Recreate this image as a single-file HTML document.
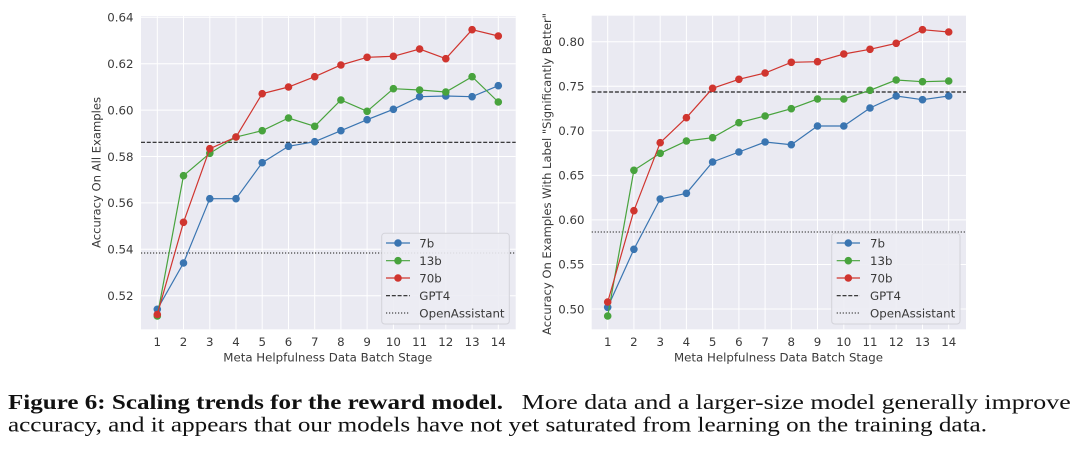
<!DOCTYPE html>
<html><head><meta charset="utf-8"><style>
html,body{margin:0;padding:0;background:#fff;}
svg{display:block;}
.t{font-family:"DejaVu Sans","Liberation Sans",sans-serif;font-size:11.8px;fill:#3a3a3a;}
.c{font-family:"Liberation Serif",serif;font-size:21.5px;fill:#111;}
</style></head><body>
<svg width="1080" height="450" viewBox="0 0 1080 450" xmlns="http://www.w3.org/2000/svg">
<defs>
<marker id="mb" markerUnits="userSpaceOnUse" markerWidth="10" markerHeight="10" refX="5" refY="5"><circle cx="5" cy="5" r="3.8" fill="#3a75b1"/></marker>
<marker id="mg" markerUnits="userSpaceOnUse" markerWidth="10" markerHeight="10" refX="5" refY="5"><circle cx="5" cy="5" r="3.8" fill="#48a33d"/></marker>
<marker id="mr" markerUnits="userSpaceOnUse" markerWidth="10" markerHeight="10" refX="5" refY="5"><circle cx="5" cy="5" r="3.8" fill="#d0352f"/></marker>
</defs>

<!-- LEFT PLOT -->
<rect x="141" y="16" width="374.7" height="313.3" fill="#eaeaf2"/>
<g stroke="#fff" stroke-width="1">
<line x1="157.3" y1="16" x2="157.3" y2="329.3"/><line x1="183.5" y1="16" x2="183.5" y2="329.3"/><line x1="209.8" y1="16" x2="209.8" y2="329.3"/><line x1="236" y1="16" x2="236" y2="329.3"/><line x1="262.2" y1="16" x2="262.2" y2="329.3"/><line x1="288.5" y1="16" x2="288.5" y2="329.3"/><line x1="314.7" y1="16" x2="314.7" y2="329.3"/><line x1="340.9" y1="16" x2="340.9" y2="329.3"/><line x1="367.1" y1="16" x2="367.1" y2="329.3"/><line x1="393.4" y1="16" x2="393.4" y2="329.3"/><line x1="419.6" y1="16" x2="419.6" y2="329.3"/><line x1="445.8" y1="16" x2="445.8" y2="329.3"/><line x1="472.1" y1="16" x2="472.1" y2="329.3"/><line x1="498.3" y1="16" x2="498.3" y2="329.3"/>
<line x1="141" y1="17.3" x2="515.7" y2="17.3"/><line x1="141" y1="63.7" x2="515.7" y2="63.7"/><line x1="141" y1="110.1" x2="515.7" y2="110.1"/><line x1="141" y1="156.5" x2="515.7" y2="156.5"/><line x1="141" y1="202.9" x2="515.7" y2="202.9"/><line x1="141" y1="249.3" x2="515.7" y2="249.3"/><line x1="141" y1="295.7" x2="515.7" y2="295.7"/>
</g>
<line x1="141" y1="142.3" x2="515.7" y2="142.3" stroke="#222" stroke-width="1.2" stroke-dasharray="4,1.8"/>
<line x1="141" y1="253" x2="515.7" y2="253" stroke="#444" stroke-width="1.2" stroke-dasharray="1.2,1.8"/>
<g fill="none" stroke-width="1.2">
<polyline stroke="#3a75b1" marker-start="url(#mb)" marker-mid="url(#mb)" marker-end="url(#mb)" points="157.3,309.3 183.5,263 209.8,198.7 236,198.7 262.2,162.7 288.5,146.3 314.7,141.7 340.9,130.7 367.1,119.7 393.4,109.3 419.6,96.7 445.8,96 472.1,96.7 498.3,85.7"/>
<polyline stroke="#48a33d" marker-start="url(#mg)" marker-mid="url(#mg)" marker-end="url(#mg)" points="157.3,316 183.5,175.7 209.8,153.3 236,137 262.2,130.7 288.5,118 314.7,126.3 340.9,100 367.1,111.3 393.4,88.7 419.6,90 445.8,92 472.1,76.7 498.3,102"/>
<polyline stroke="#d0352f" marker-start="url(#mr)" marker-mid="url(#mr)" marker-end="url(#mr)" points="157.3,314.5 183.5,222.3 209.8,148.7 236,137 262.2,93.7 288.5,87 314.7,76.7 340.9,65 367.1,57.3 393.4,56.3 419.6,49 445.8,58.7 472.1,29.7 498.3,36"/>
</g>
<g class="t" text-anchor="end">
<text x="133.5" y="21.6">0.64</text><text x="133.5" y="68">0.62</text><text x="133.5" y="114.4">0.60</text><text x="133.5" y="160.8">0.58</text><text x="133.5" y="207.2">0.56</text><text x="133.5" y="253.6">0.54</text><text x="133.5" y="300">0.52</text>
</g>
<g class="t" text-anchor="middle">
<text x="157.3" y="346">1</text><text x="183.5" y="346">2</text><text x="209.8" y="346">3</text><text x="236" y="346">4</text><text x="262.2" y="346">5</text><text x="288.5" y="346">6</text><text x="314.7" y="346">7</text><text x="340.9" y="346">8</text><text x="367.1" y="346">9</text><text x="393.4" y="346">10</text><text x="419.6" y="346">11</text><text x="445.8" y="346">12</text><text x="472.1" y="346">13</text><text x="498.3" y="346">14</text>
<text x="327.8" y="361.5" textLength="209" lengthAdjust="spacingAndGlyphs">Meta Helpfulness Data Batch Stage</text>
<text transform="translate(100.5,172.5) rotate(-90)" x="0" y="0" textLength="151" lengthAdjust="spacingAndGlyphs">Accuracy On All Examples</text>
</g>
<!-- left legend -->
<rect x="381.7" y="233.3" width="127.6" height="90.7" rx="3" fill="#ececf3" fill-opacity="0.9" stroke="#d3d3da" stroke-width="1"/>
<line x1="386" y1="243" x2="410" y2="243" stroke="#3a75b1" stroke-width="1.2"/><circle cx="398" cy="243" r="3.8" fill="#3a75b1"/>
<line x1="386" y1="260.7" x2="410" y2="260.7" stroke="#48a33d" stroke-width="1.2"/><circle cx="398" cy="260.7" r="3.8" fill="#48a33d"/>
<line x1="386" y1="278" x2="410" y2="278" stroke="#d0352f" stroke-width="1.2"/><circle cx="398" cy="278" r="3.8" fill="#d0352f"/>
<line x1="386" y1="295.7" x2="410" y2="295.7" stroke="#222" stroke-width="1.2" stroke-dasharray="4,1.8"/>
<line x1="386" y1="313" x2="410" y2="313" stroke="#444" stroke-width="1.2" stroke-dasharray="1.2,1.8"/>
<g class="t"><text x="419.3" y="247.3">7b</text><text x="419.3" y="265">13b</text><text x="419.3" y="282.3">70b</text><text x="419.3" y="300">GPT4</text><text x="419.3" y="317.3">OpenAssistant</text></g>

<!-- RIGHT PLOT -->
<rect x="591.7" y="15.7" width="374.3" height="313.6" fill="#eaeaf2"/>
<g stroke="#fff" stroke-width="1">
<line x1="607.7" y1="15.7" x2="607.7" y2="329.3"/><line x1="633.9" y1="15.7" x2="633.9" y2="329.3"/><line x1="660.2" y1="15.7" x2="660.2" y2="329.3"/><line x1="686.4" y1="15.7" x2="686.4" y2="329.3"/><line x1="712.6" y1="15.7" x2="712.6" y2="329.3"/><line x1="738.9" y1="15.7" x2="738.9" y2="329.3"/><line x1="765.1" y1="15.7" x2="765.1" y2="329.3"/><line x1="791.3" y1="15.7" x2="791.3" y2="329.3"/><line x1="817.5" y1="15.7" x2="817.5" y2="329.3"/><line x1="843.8" y1="15.7" x2="843.8" y2="329.3"/><line x1="870" y1="15.7" x2="870" y2="329.3"/><line x1="896.2" y1="15.7" x2="896.2" y2="329.3"/><line x1="922.5" y1="15.7" x2="922.5" y2="329.3"/><line x1="948.7" y1="15.7" x2="948.7" y2="329.3"/>
<line x1="591.7" y1="41.7" x2="966" y2="41.7"/><line x1="591.7" y1="86.25" x2="966" y2="86.25"/><line x1="591.7" y1="130.8" x2="966" y2="130.8"/><line x1="591.7" y1="175.35" x2="966" y2="175.35"/><line x1="591.7" y1="219.9" x2="966" y2="219.9"/><line x1="591.7" y1="264.45" x2="966" y2="264.45"/><line x1="591.7" y1="309" x2="966" y2="309"/>
</g>
<line x1="591.7" y1="92" x2="966" y2="92" stroke="#222" stroke-width="1.2" stroke-dasharray="4,1.8"/>
<line x1="591.7" y1="232" x2="966" y2="232" stroke="#444" stroke-width="1.2" stroke-dasharray="1.2,1.8"/>
<g fill="none" stroke-width="1.2">
<polyline stroke="#3a75b1" marker-start="url(#mb)" marker-mid="url(#mb)" marker-end="url(#mb)" points="607.7,307.3 633.9,249.3 660.2,199 686.4,193.3 712.6,162 738.9,152 765.1,142 791.3,144.7 817.5,126 843.8,126 870,108 896.2,96 922.5,99.7 948.7,96"/>
<polyline stroke="#48a33d" marker-start="url(#mg)" marker-mid="url(#mg)" marker-end="url(#mg)" points="607.7,316 633.9,170.3 660.2,153.3 686.4,141 712.6,137.7 738.9,122.7 765.1,116 791.3,108.7 817.5,99 843.8,99 870,90.3 896.2,80 922.5,81.7 948.7,81"/>
<polyline stroke="#d0352f" marker-start="url(#mr)" marker-mid="url(#mr)" marker-end="url(#mr)" points="607.7,302 633.9,210.7 660.2,142.7 686.4,117.7 712.6,88.3 738.9,79.3 765.1,73 791.3,62.3 817.5,61.7 843.8,54 870,49.3 896.2,43.3 922.5,29.7 948.7,32"/>
</g>
<g class="t" text-anchor="end">
<text x="584.5" y="46">0.80</text><text x="584.5" y="90.5">0.75</text><text x="584.5" y="135.1">0.70</text><text x="584.5" y="179.6">0.65</text><text x="584.5" y="224.2">0.60</text><text x="584.5" y="268.7">0.55</text><text x="584.5" y="313.3">0.50</text>
</g>
<g class="t" text-anchor="middle">
<text x="607.7" y="346">1</text><text x="633.9" y="346">2</text><text x="660.2" y="346">3</text><text x="686.4" y="346">4</text><text x="712.6" y="346">5</text><text x="738.9" y="346">6</text><text x="765.1" y="346">7</text><text x="791.3" y="346">8</text><text x="817.5" y="346">9</text><text x="843.8" y="346">10</text><text x="870" y="346">11</text><text x="896.2" y="346">12</text><text x="922.5" y="346">13</text><text x="948.7" y="346">14</text>
<text x="778.5" y="361.5" textLength="209" lengthAdjust="spacingAndGlyphs">Meta Helpfulness Data Batch Stage</text>
<text transform="translate(551,174) rotate(-90)" x="0" y="0" textLength="322" lengthAdjust="spacingAndGlyphs">Accuracy On Examples With Label "Significantly Better"</text>
</g>
<!-- right legend -->
<rect x="831.7" y="233.3" width="128.3" height="90.7" rx="3" fill="#ececf3" fill-opacity="0.9" stroke="#d3d3da" stroke-width="1"/>
<line x1="836.7" y1="243" x2="860" y2="243" stroke="#3a75b1" stroke-width="1.2"/><circle cx="848.3" cy="243" r="3.8" fill="#3a75b1"/>
<line x1="836.7" y1="260.7" x2="860" y2="260.7" stroke="#48a33d" stroke-width="1.2"/><circle cx="848.3" cy="260.7" r="3.8" fill="#48a33d"/>
<line x1="836.7" y1="278" x2="860" y2="278" stroke="#d0352f" stroke-width="1.2"/><circle cx="848.3" cy="278" r="3.8" fill="#d0352f"/>
<line x1="836.7" y1="295.7" x2="860" y2="295.7" stroke="#222" stroke-width="1.2" stroke-dasharray="4,1.8"/>
<line x1="836.7" y1="313" x2="860" y2="313" stroke="#444" stroke-width="1.2" stroke-dasharray="1.2,1.8"/>
<g class="t"><text x="870" y="247.3">7b</text><text x="870" y="265">13b</text><text x="870" y="282.3">70b</text><text x="870" y="300">GPT4</text><text x="870" y="317.3">OpenAssistant</text></g>

<!-- CAPTION -->
<text class="c" x="8" y="409" font-weight="bold" textLength="495" lengthAdjust="spacingAndGlyphs">Figure 6: Scaling trends for the reward model.</text>
<text class="c" x="521.7" y="409" textLength="549" lengthAdjust="spacingAndGlyphs">More data and a larger-size model generally improve</text>
<text class="c" x="8" y="431.5" textLength="979" lengthAdjust="spacingAndGlyphs">accuracy, and it appears that our models have not yet saturated from learning on the training data.</text>
</svg>
</body></html>
